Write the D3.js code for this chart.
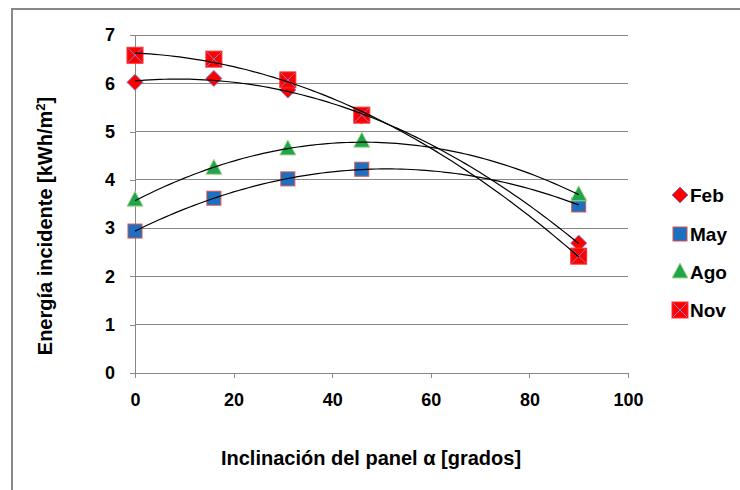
<!DOCTYPE html>
<html><head><meta charset="utf-8">
<script src="https://cdn.jsdelivr.net/npm/d3@7"></script>
<style>body{margin:0;background:#fff;font-family:Arial,"Liberation Sans",sans-serif;}</style>
</head><body><svg id="c" width="740" height="490"></svg>
<script>
const angles = [0, 16, 31, 46, 90];
const feb = [6.02, 6.1, 5.86, 5.32, 2.69];
const may = [2.94, 3.62, 4.02, 4.22, 3.48];
const ago = [3.58, 4.24, 4.64, 4.8, 3.69];
const nov = [6.58, 6.5, 6.07, 5.34, 2.42];
const seriesNames = ["Feb", "May", "Ago", "Nov"];
const xTicks = [0, 20, 40, 60, 80, 100];
const yTicks = [0, 1, 2, 3, 4, 5, 6, 7];

const svg = d3.select("#c");
const x = d3.scaleLinear().domain([0, 100]).range([135, 628]);
const y = d3.scaleLinear().domain([0, 7]).range([373, 35]);

// chart border
svg.append("path").attr("d", "M12,490 L12,9 L740,9").attr("fill", "none").attr("stroke", "#888").attr("stroke-width", 2);

// gridlines
svg.append("g").selectAll("line").data(yTicks.slice(1)).join("line")
  .attr("x1", x(0)).attr("x2", x(100)).attr("y1", d => y(d)).attr("y2", d => y(d))
  .attr("stroke", "#888").attr("stroke-width", 1).attr("shape-rendering", "crispEdges");

// axes
const xAxis = d3.axisBottom(x).tickValues(xTicks).tickSize(5).tickPadding(15).tickFormat(d3.format("d"));
const yAxis = d3.axisLeft(y).tickValues(yTicks).tickSize(5).tickPadding(15).tickFormat(d3.format("d"));
const gx = svg.append("g").attr("transform", `translate(0,${y(0)})`).call(xAxis);
const gy = svg.append("g").attr("transform", `translate(${x(0)},0)`).call(yAxis);
[gx, gy].forEach(g => {
  g.select(".domain").attr("stroke", "#888").attr("shape-rendering", "crispEdges");
  g.selectAll(".tick line").attr("stroke", "#888").attr("shape-rendering", "crispEdges");
  g.selectAll(".tick text").attr("font-family", "Arial, 'Liberation Sans', sans-serif")
    .attr("font-size", 18).attr("font-weight", "bold").attr("fill", "#000");
});
gy.select(".domain").attr("d", `M0,${y(0)}V${y(7)}`);
gx.select(".domain").attr("d", `M${x(0)},0H${x(100)}`);

// titles
svg.append("text").attr("x", 371).attr("y", 465).attr("text-anchor", "middle")
  .attr("font-size", 20).attr("font-weight", "bold").text("Inclinación del panel α [grados]");
const yt = svg.append("text").attr("transform", "translate(52,226) rotate(-90)").attr("text-anchor", "middle")
  .attr("font-size", 20).attr("font-weight", "bold");
yt.append("tspan").text("Energía incidente [kWh/m");
yt.append("tspan").attr("font-size", 13).attr("dy", -7).text("2");
yt.append("tspan").attr("dy", 7).text("]");

// quadratic least squares trendline
function quadFit(xs, ys) {
  let n = xs.length, s = [0,0,0,0,0], t = [0,0,0];
  for (let i = 0; i < n; i++) {
    let p = 1;
    for (let k = 0; k < 5; k++) { s[k] += p; if (k < 3) t[k] += p * ys[i]; p *= xs[i]; }
  }
  const A = [[s[0], s[1], s[2], t[0]], [s[1], s[2], s[3], t[1]], [s[2], s[3], s[4], t[2]]];
  for (let i = 0; i < 3; i++) {
    for (let j = i + 1; j < 3; j++) {
      const f = A[j][i] / A[i][i];
      for (let k = i; k < 4; k++) A[j][k] -= f * A[i][k];
    }
  }
  const c = [0,0,0];
  for (let i = 2; i >= 0; i--) {
    let v = A[i][3];
    for (let k = i + 1; k < 3; k++) v -= A[i][k] * c[k];
    c[i] = v / A[i][i];
  }
  return xv => c[0] + c[1] * xv + c[2] * xv * xv;
}

const series = [
  {name: seriesNames[0], vals: feb, type: "diamond"},
  {name: seriesNames[1], vals: may, type: "square"},
  {name: seriesNames[2], vals: ago, type: "triangle"},
  {name: seriesNames[3], vals: nov, type: "xsquare"}
];

function drawMarker(g, type, cx, cy) {
  if (type === "diamond") {
    g.append("path").attr("d", `M${cx},${cy-8}L${cx+8},${cy}L${cx},${cy+8}L${cx-8},${cy}Z`)
      .attr("fill", "#ff0000").attr("stroke", "#7b7bd0").attr("stroke-width", 1);
  } else if (type === "square") {
    g.append("rect").attr("x", cx-7).attr("y", cy-7).attr("width", 14).attr("height", 14)
      .attr("fill", "#1d6fc0").attr("stroke", "#d9534f").attr("stroke-width", 1);
  } else if (type === "triangle") {
    g.append("path").attr("d", `M${cx},${cy-9}L${cx+8},${cy+6}L${cx-8},${cy+6}Z`)
      .attr("fill", "#1fa54a").attr("stroke", "#a8d890").attr("stroke-width", 1);
  } else {
    g.append("rect").attr("x", cx-8).attr("y", cy-8).attr("width", 16).attr("height", 16)
      .attr("fill", "#ff0000").attr("stroke", "#ff3030").attr("stroke-width", 1);
    g.append("path").attr("d", `M${cx-7},${cy-7}L${cx+7},${cy+7}M${cx+7},${cy-7}L${cx-7},${cy+7}`)
      .attr("stroke", "#8080d0").attr("stroke-width", 1);
  }
}

const mg = svg.append("g");
series.forEach(s => {
  s.vals.forEach((v, i) => drawMarker(mg, s.type, x(angles[i]), y(v)));
});

const lg = svg.append("g");
const line = d3.line().x(d => x(d[0])).y(d => y(d[1]));
series.forEach(s => {
  const f = quadFit(angles, s.vals);
  const pts = d3.range(0, 90.01, 1).map(a => [a, f(a)]);
  lg.append("path").attr("d", line(pts)).attr("fill", "none").attr("stroke", "#000").attr("stroke-width", 1.2);
});

// legend
const legY = [195, 234, 272, 310];
series.forEach((s, i) => {
  drawMarker(svg, s.type, 680, legY[i]);
  svg.append("text").attr("x", 690).attr("y", legY[i] + 7).attr("font-size", 19)
    .attr("font-weight", "bold").text(s.name);
});
</script></body></html>
